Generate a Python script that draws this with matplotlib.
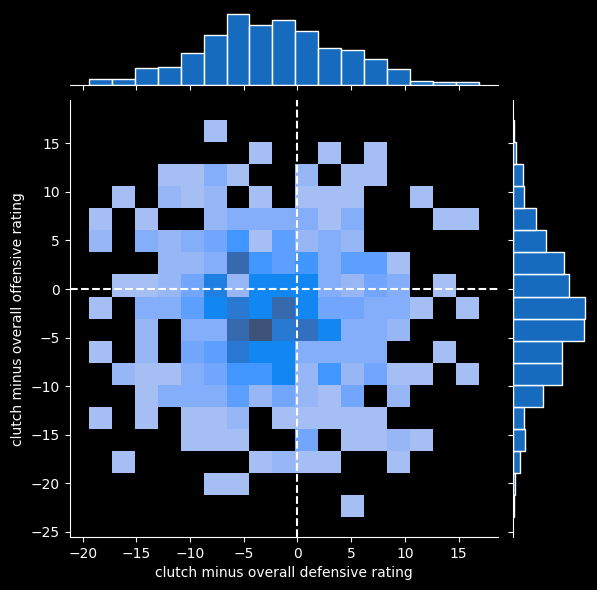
import numpy as np
import matplotlib
matplotlib.use("Agg")
import matplotlib.pyplot as plt
from matplotlib.colors import ListedColormap, to_rgba
from seaborn.external import husl

plt.style.use("dark_background")

x_label = "clutch minus overall defensive rating"
y_label = "clutch minus overall offensive rating"
base_color = "dodgerblue"

# bin layout (data units)
x_bin_lo, x_bin_hi, n_x_bins = -19.4, 16.85, 17
y_bin_lo, y_bin_hi, n_y_bins = -23.5, 17.4, 18

# joint counts: rows from the top (highest y bin) to the bottom, columns left to right
joint_counts = [
    [0, 0, 0, 0, 0, 1, 0, 0, 0, 0, 0, 0, 0, 0, 0, 0, 0],
    [0, 0, 0, 0, 0, 0, 0, 1, 0, 0, 1, 0, 1, 0, 0, 0, 0],
    [0, 0, 0, 1, 1, 3, 1, 0, 0, 2, 0, 1, 1, 0, 0, 0, 0],
    [0, 1, 0, 2, 1, 2, 0, 1, 0, 1, 1, 1, 0, 0, 1, 0, 0],
    [1, 0, 1, 0, 0, 2, 3, 3, 3, 3, 1, 3, 0, 0, 0, 1, 1],
    [2, 0, 3, 2, 3, 4, 6, 1, 5, 2, 3, 2, 0, 0, 0, 0, 0],
    [0, 0, 0, 2, 2, 3, 12, 6, 5, 6, 3, 5, 5, 1, 0, 0, 0],
    [0, 1, 1, 2, 4, 9, 2, 8, 8, 8, 3, 2, 4, 3, 0, 1, 0],
    [1, 0, 3, 3, 5, 8, 10, 8, 12, 8, 4, 4, 3, 3, 1, 0, 1],
    [0, 0, 2, 0, 3, 3, 12, 15, 10, 11, 8, 3, 3, 2, 0, 0, 0],
    [1, 0, 2, 0, 4, 5, 10, 8, 8, 3, 3, 3, 3, 0, 0, 1, 0],
    [0, 2, 1, 1, 3, 4, 6, 6, 8, 2, 6, 2, 4, 1, 1, 0, 1],
    [0, 0, 1, 3, 3, 3, 5, 2, 4, 2, 1, 4, 0, 2, 0, 0, 0],
    [1, 0, 1, 0, 1, 1, 2, 0, 1, 1, 1, 1, 1, 0, 0, 0, 0],
    [0, 0, 0, 0, 1, 1, 1, 0, 0, 4, 0, 1, 1, 2, 1, 0, 0],
    [0, 1, 0, 0, 0, 0, 0, 1, 2, 1, 1, 0, 0, 1, 0, 0, 0],
    [0, 0, 0, 0, 0, 1, 1, 0, 0, 0, 0, 0, 0, 0, 0, 0, 0],
    [0, 0, 0, 0, 0, 0, 0, 0, 0, 0, 0, 1, 0, 0, 0, 0, 0],
]

# marginal histograms
x_marginal = [6, 6, 17, 18, 32, 50, 71, 60, 65, 54, 37, 35, 26, 16, 4, 3, 3]
# top to bottom
y_marginal_top_down = [1, 3, 10, 11, 23, 34, 52, 58, 74, 73, 50, 50, 31, 11, 12, 7, 2, 1]


def cmap_from_color(color):
    r, g, b, _ = to_rgba(color)
    h, s, _ = husl.rgb_to_husl(r, g, b)
    xx = np.linspace(-1, 1, int(1.15 * 256))[:256]
    ramp = np.zeros((256, 3))
    ramp[:, 0] = h
    ramp[:, 1] = s * np.cos(xx)
    ramp[:, 2] = np.linspace(35, 80, 256)
    colors = np.clip([husl.husl_to_rgb(*hsl) for hsl in ramp], 0, 1)
    return ListedColormap(colors[::-1])


x_edges = np.linspace(x_bin_lo, x_bin_hi, n_x_bins + 1)
y_edges = np.linspace(y_bin_lo, y_bin_hi, n_y_bins + 1)
bw = x_edges[1] - x_edges[0]
bh = y_edges[1] - y_edges[0]

C = np.flipud(np.array(joint_counts, dtype=float))
y_marg = np.array(y_marginal_top_down[::-1])

W, H = 597, 590
fig = plt.figure(figsize=(W / 100, H / 100), dpi=100)
main_l, main_r, main_t, main_b = 69.6, 498.0, 100.1, 537.2
marg = 75.2
ax = fig.add_axes([main_l / W, (H - main_b) / H, (main_r - main_l) / W, (main_b - main_t) / H])
ax_mx = fig.add_axes([main_l / W, (H - 85.3) / H, (main_r - main_l) / W, marg / H], sharex=ax)
ax_my = fig.add_axes([513.3 / W, (H - main_b) / H, marg / W, (main_b - main_t) / H], sharey=ax)

cmap = cmap_from_color(base_color)
mesh = ax.pcolormesh(x_edges, y_edges, np.ma.masked_less_equal(C, 0),
                     cmap=cmap, vmin=0, vmax=C.max())
mesh.sticky_edges.x[:] = []
mesh.sticky_edges.y[:] = []

ax.axvline(0, color="white", ls="--", lw=1.5)
ax.axhline(0, color="white", ls="--", lw=1.5)

xr = x_bin_hi - x_bin_lo
yr = y_bin_hi - y_bin_lo
ax.set_xlim(x_bin_lo - 0.05 * xr, x_bin_hi + 0.05 * xr)
ax.set_ylim(y_bin_lo - 0.05 * yr, y_bin_hi + 0.05 * yr)
ax.set_xticks([-20, -15, -10, -5, 0, 5, 10, 15])
ax.set_yticks([-25, -20, -15, -10, -5, 0, 5, 10, 15])
ax.set_xlabel(x_label)
ax.set_ylabel(y_label)
for s in ("top", "right"):
    ax.spines[s].set_visible(False)

face = to_rgba(base_color, 0.75)
ax_mx.bar(x_edges[:-1], x_marginal, width=bw, align="edge",
          facecolor=face, edgecolor="white", linewidth=1)
ax_my.barh(y_edges[:-1], y_marg, height=bh, align="edge",
           facecolor=face, edgecolor="white", linewidth=1)

ax_mx.tick_params(labelbottom=False, left=False, labelleft=False)
for s in ("top", "right", "left"):
    ax_mx.spines[s].set_visible(False)
ax_my.tick_params(labelleft=False, bottom=False, labelbottom=False)
for s in ("top", "right", "bottom"):
    ax_my.spines[s].set_visible(False)
ax_mx.set_ylim(0, max(x_marginal) * 1.05)
ax_my.set_xlim(0, max(y_marg) * 1.05)

fig.savefig("out.png", dpi=100)
